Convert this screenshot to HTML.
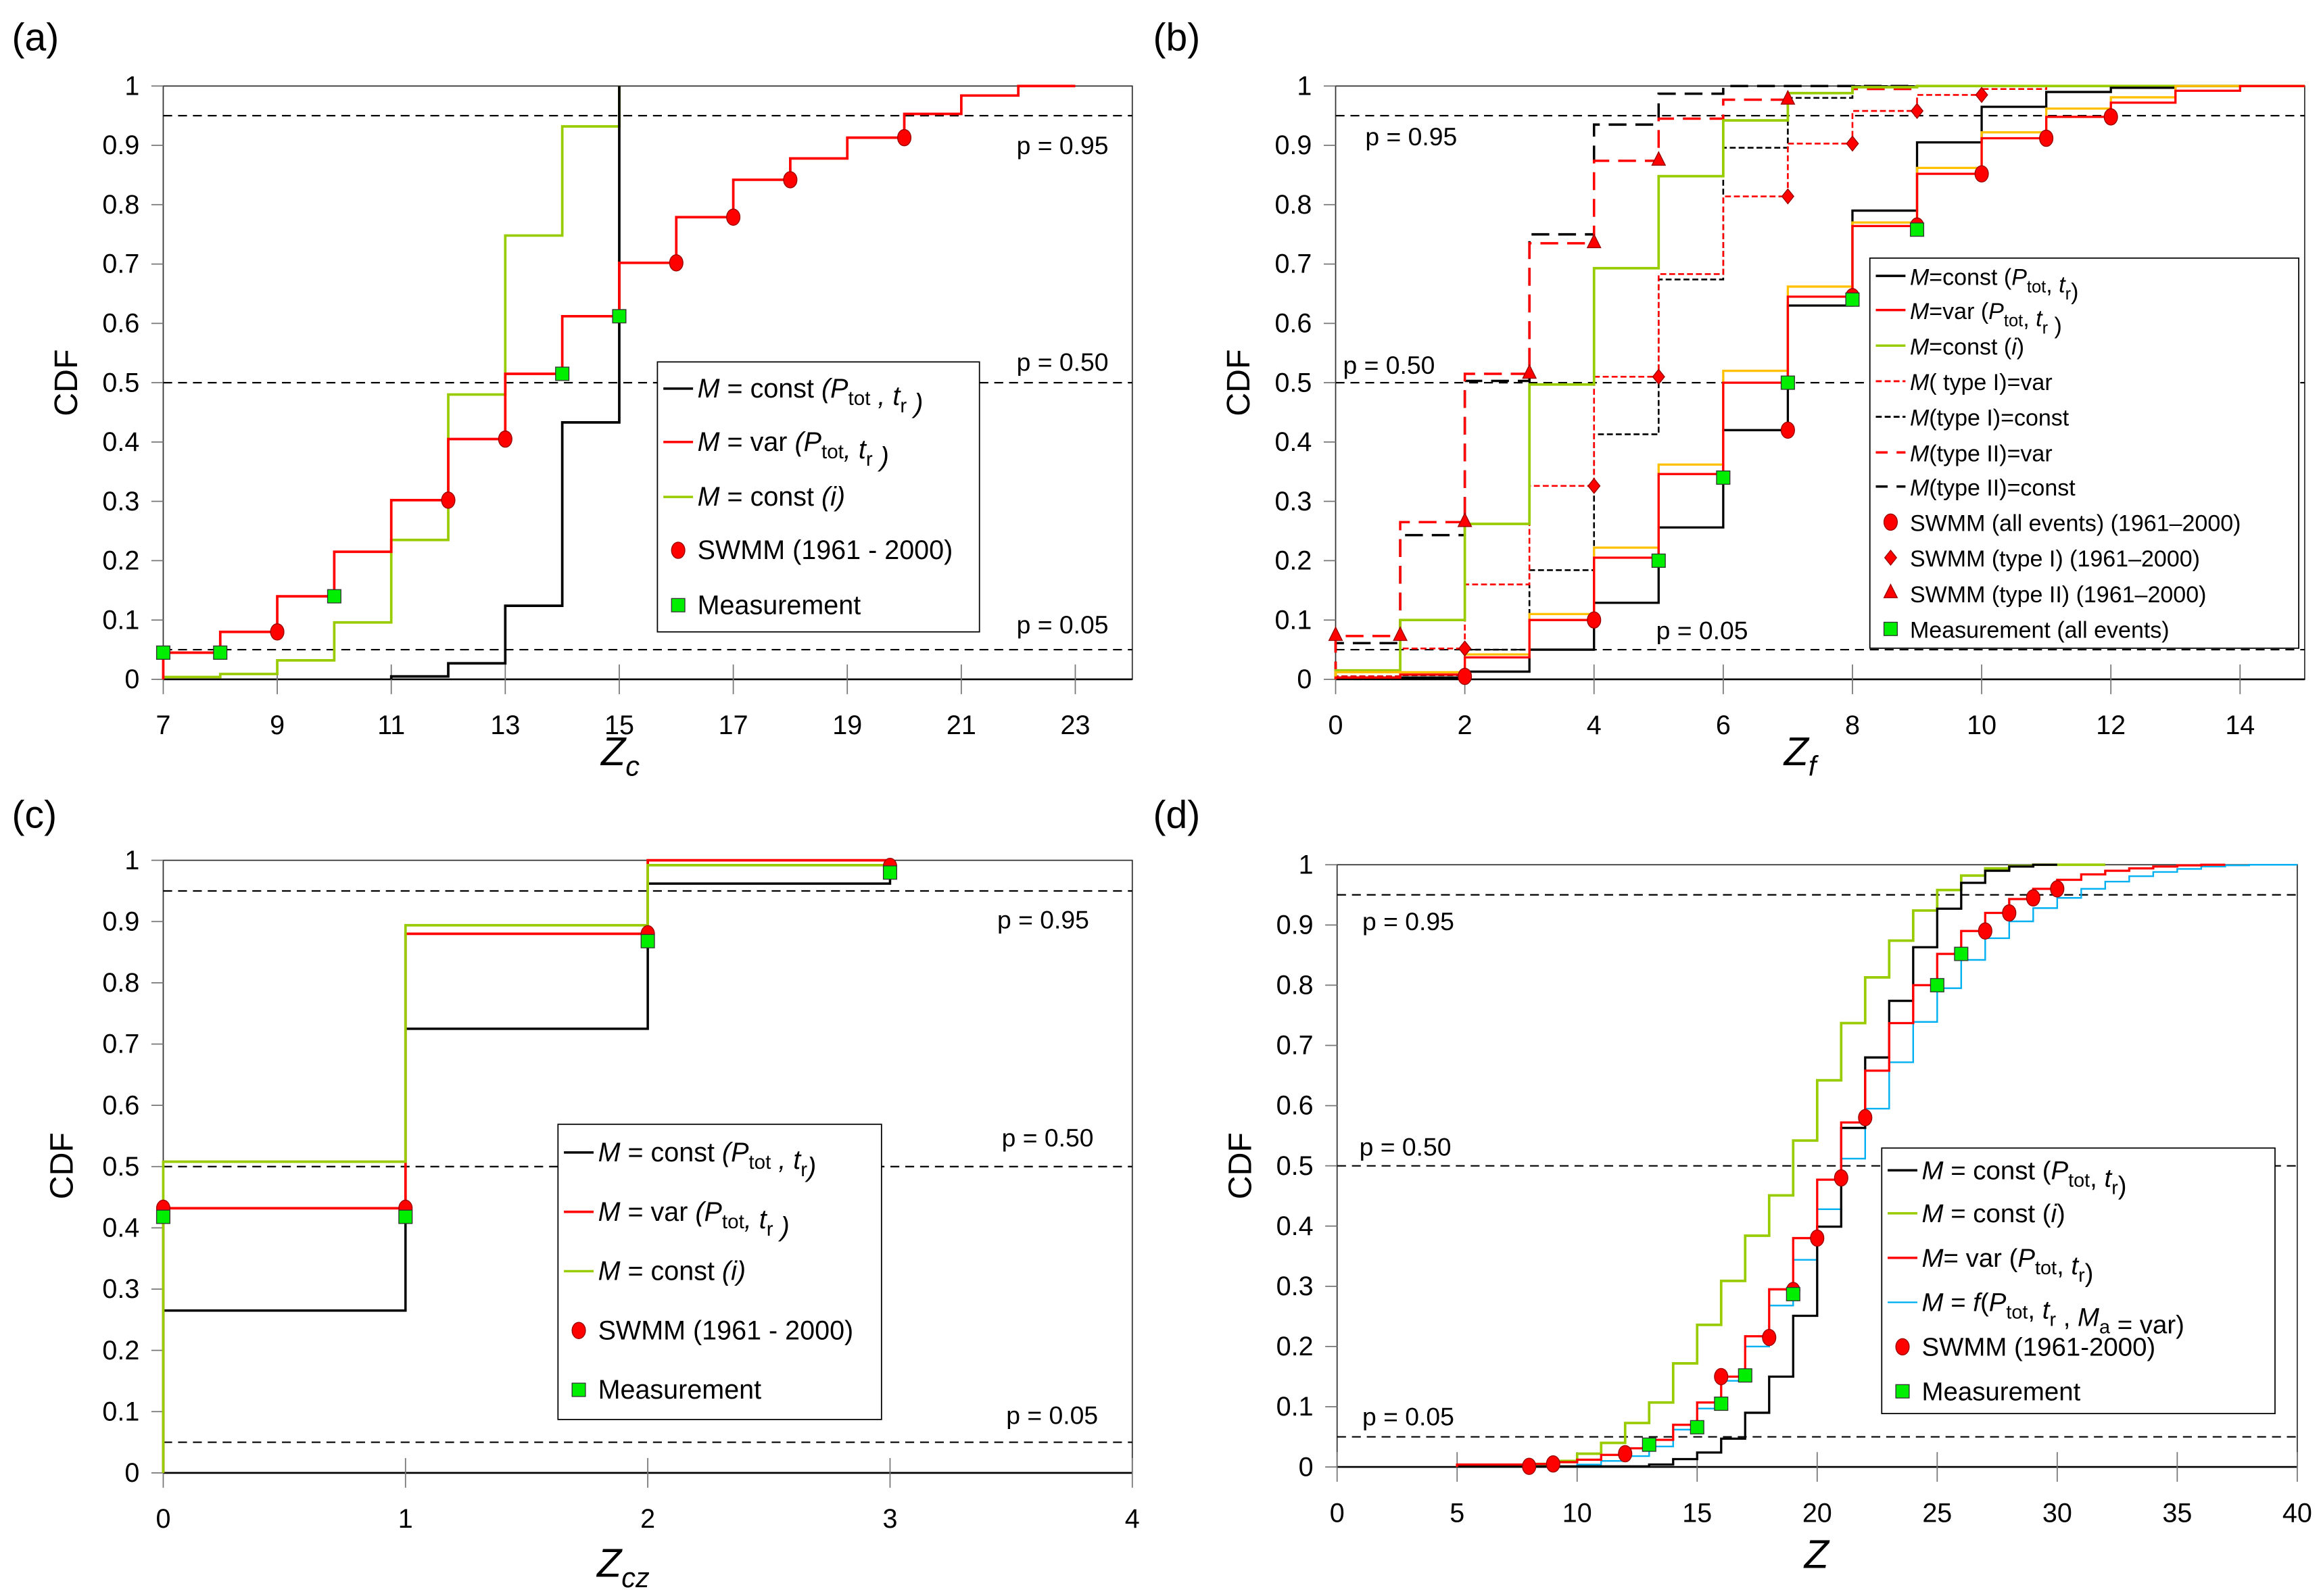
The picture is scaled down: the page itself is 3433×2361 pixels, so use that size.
<!DOCTYPE html>
<html><head><meta charset="utf-8"><style>
html,body{margin:0;padding:0;background:#fff;}
svg{display:block;font-family:"Liberation Sans",sans-serif;}
</style></head><body>
<svg id="fig" xmlns="http://www.w3.org/2000/svg" width="3433" height="2361" viewBox="0 0 1564 1076" preserveAspectRatio="none">
<rect width="1564" height="1076" fill="#fff"/>
<g id="layer"></g>
</svg>
<script>
// ---------- Panel (a) data ----------
const aBlackX=[11,12,13,14,15];
const aBlackY=[0.005,0.027,0.124,0.433,1.0];
const aGreenX=[7,8,9,10,11,12,13,14,15];
const aGreenY=[0.004,0.009,0.032,0.096,0.235,0.48,0.748,0.932,1.0];
const aRedX=[7,8,9,10,11,12,13,14,15,16,17,18,19,20,21,22];
const aRedY=[0.045,0.08,0.14,0.215,0.302,0.405,0.515,0.612,0.702,0.779,0.842,0.878,0.913,0.953,0.984,1.0];
const aSwmmX=[9,12,13,16,17,18,20];
const aSwmmY=[0.08,0.302,0.405,0.702,0.779,0.842,0.913];
const aMeasX=[7,8,10,14,15];
const aMeasY=[0.045,0.045,0.14,0.515,0.612];
const aTicksX=[7,9,11,13,15,17,19,21,23];
// ---------- Panel (b) data ----------
const bX=[0,1,2,3,4,5,6,7,8,9,10,11,12,13,14];
const bBlackY=[0.003,0.003,0.013,0.05,0.129,0.256,0.42,0.63,0.79,0.905,0.965,0.99,0.997,1.0,1.0];
const bRedY=[0.003,0.008,0.037,0.1,0.205,0.346,0.5,0.645,0.764,0.852,0.912,0.948,0.972,0.992,1.0];
const bOrangeY=[0.012,0.012,0.042,0.11,0.222,0.362,0.52,0.662,0.77,0.862,0.922,0.962,0.981,1.0,1.0];
const bGreenY=[0.015,0.1,0.262,0.497,0.693,0.848,0.942,0.988,0.998,1.0,1.0,1.0,1.0,1.0,1.0];
const bRedDotY=[0.005,0.052,0.16,0.326,0.51,0.683,0.814,0.903,0.958,0.985,0.995,1.0,1.0,1.0,1.0];
const bBlackDotY=[0.005,0.007,0.05,0.184,0.413,0.674,0.896,0.98,1.0,1.0,1.0,1.0,1.0,1.0,1.0];
const bRedDashY=[0.073,0.265,0.515,0.735,0.874,0.945,0.977,0.988,0.995,1.0,1.0,1.0,1.0,1.0,1.0];
const bBlackDashY=[0.061,0.243,0.503,0.75,0.935,0.987,1.0,1.0,1.0,1.0,1.0,1.0,1.0,1.0,1.0];
const bSwmmX=[2,4,7,8,9,10,11,12];
const bSwmmY=[0.005,0.1,0.42,0.645,0.764,0.852,0.912,0.948];
const bType1X=[2,4,5,7,8,9,10];
const bType1Y=[0.052,0.326,0.51,0.814,0.903,0.958,0.985];
const bType2X=[0,1,2,3,4,5,7];
const bType2Y=[0.073,0.073,0.265,0.515,0.735,0.874,0.977];
const bMeasX=[5,6,7,8,9];
const bMeasY=[0.2,0.34,0.5,0.64,0.758];
const bTicksX=[0,2,4,6,8,10,12,14];
// ---------- Panel (c) data ----------
const cBlackX=[0,1,2,3];
const cBlackY=[0.265,0.725,0.962,0.97];
const cRedX=[0,1,2];
const cRedY=[0.432,0.88,1.0];
const cGreenX=[0,1,2];
const cGreenY=[0.508,0.894,0.992];
const cSwmmX=[0,1,2,3];
const cSwmmY=[0.432,0.432,0.88,0.99];
const cMeasX=[0,1,2,3];
const cMeasY=[0.418,0.418,0.868,0.98];
const cTicksX=[0,1,2,3,4];
// ---------- Panel (d) data ----------
const dGreenX=[5,8,9,10,11,12,13,14,15,16,17,18,19,20,21,22,23,24,25,26,27,28,29];
const dGreenY=[0.003,0.005,0.01,0.022,0.04,0.073,0.107,0.172,0.236,0.309,0.384,0.451,0.542,0.642,0.737,0.813,0.874,0.924,0.958,0.982,0.994,0.998,1.0];
const dBlackX=[5,13,14,15,16,17,18,19,20,21,22,23,24,25,26,27,28,29];
const dBlackY=[0.001,0.004,0.013,0.024,0.047,0.09,0.15,0.251,0.399,0.563,0.68,0.774,0.863,0.927,0.97,0.99,0.997,1.0];
const dRedX=[5,8,9,10,11,12,13,14,15,16,17,18,19,20,21,22,23,24,25,26,27,28,29,30,31,32,33,34,35,36];
const dRedY=[0.004,0.005,0.008,0.012,0.02,0.031,0.045,0.07,0.107,0.15,0.217,0.295,0.38,0.477,0.572,0.658,0.737,0.8,0.852,0.89,0.92,0.943,0.96,0.975,0.984,0.99,0.994,0.997,0.999,1.0];
const dBlueX=[5,10,11,12,13,14,15,16,17,18,19,20,21,22,23,24,25,26,27,28,29,30,31,32,33,34,35,36,37,38];
const dBlueY=[0.001,0.004,0.01,0.018,0.034,0.062,0.097,0.143,0.2,0.268,0.344,0.428,0.512,0.595,0.672,0.739,0.795,0.842,0.878,0.906,0.928,0.945,0.96,0.972,0.981,0.988,0.993,0.997,0.999,1.0];
const dSwmmX=[8,9,12,16,18,19,20,21,22,27,28,29,30];
const dSwmmY=[0.001,0.005,0.022,0.15,0.215,0.293,0.38,0.48,0.58,0.89,0.92,0.945,0.96];
const dMeasX=[13,15,16,17,19,25,26];
const dMeasY=[0.037,0.066,0.105,0.152,0.287,0.8,0.852];
const dTicksX=[0,5,10,15,20,25,30,35,40];
const yTicks=[0,0.1,0.2,0.3,0.4,0.5,0.6,0.7,0.8,0.9,1];
const yTickLabels=["0","0.1","0.2","0.3","0.4","0.5","0.6","0.7","0.8","0.9","1"];
const pLevels=[0.95,0.5,0.05];

const NS="http://www.w3.org/2000/svg";
const layer=document.getElementById('layer');
function mk(tag,attrs,parent){const e=document.createElementNS(NS,tag);for(const k in attrs)e.setAttribute(k,attrs[k]);(parent||layer).appendChild(e);return e;}
function scaleX(P,v){return P.x0+(v-P.xmin)/(P.xmax-P.xmin)*(P.x1-P.x0);}
function scaleY(P,v){return P.yB-v*(P.yB-P.yT);}

function axes(P,ticks,name){
  const g=mk('g',{});
  
  
  const fr=mk('rect',{x:P.x0,y:P.yT,width:P.x1-P.x0,height:P.yB-P.yT,fill:'none',stroke:'#333','stroke-width':0.8},g);
  
  
  mk('line',{x1:P.x0,x2:P.x1,y1:P.yB,y2:P.yB,stroke:'#000','stroke-width':1.2},g);
  yTicks.forEach((v,i)=>{
    const y=scaleY(P,v);
    mk('line',{x1:P.x0-8,x2:P.x0,y1:y,y2:y,stroke:'#777','stroke-width':0.8},g);
    const t=mk('text',{x:P.x0-16,y:y+6,'font-size':18,'text-anchor':'end',fill:'#000'},g);
    t.textContent=yTickLabels[i];
    
    
  });
  ticks.forEach(v=>{
    const x=scaleX(P,v);
    mk('line',{x1:x,x2:x,y1:P.yB-10,y2:P.yB+10,stroke:'#777','stroke-width':0.8},g);
    const t=mk('text',{x:x,y:P.yB+37,'font-size':18,'text-anchor':'middle',fill:'#000'},g);
    t.textContent=String(v);
    
    
  });
  pLevels.forEach(p=>{
    const l=mk('line',{x1:P.x0,x2:P.x1,y1:scaleY(P,p),y2:scaleY(P,p),stroke:'#000','stroke-width':1,'stroke-dasharray':'6,4'},g);
    
    
  });
}
function step(P,xs,ys,xEnd,color,w,dash,name){
  let d='M'+scaleX(P,xs[0])+','+scaleY(P,0)+' V'+scaleY(P,ys[0]);
  for(let i=1;i<xs.length;i++){d+=' H'+scaleX(P,xs[i])+' V'+scaleY(P,ys[i]);}
  d+=' H'+scaleX(P,xEnd);
  const a={d:d,fill:'none',stroke:color,'stroke-width':w};
  if(dash)a['stroke-dasharray']=dash;
  const p=mk('path',a);
  
  
}
function marker(type,x,y,name){
  let e;
  if(type==='circle') e=mk('ellipse',{cx:x,cy:y,rx:4.5,ry:5.5,fill:'#ff0000',stroke:'#900','stroke-width':0.6});
  else if(type==='square') e=mk('rect',{x:x-4.5,y:y-4.5,width:9,height:9,fill:'#00ee00',stroke:'#333','stroke-width':0.6});
  else if(type==='diamond') e=mk('path',{d:`M${x},${y-5} L${x+4},${y} L${x},${y+5} L${x-4},${y} Z`,fill:'#ff0000',stroke:'#900','stroke-width':0.6});
  else e=mk('path',{d:`M${x},${y-6} L${x+4.5},${y+3} L${x-4.5},${y+3} Z`,fill:'#ff0000',stroke:'#900','stroke-width':0.6});
  
  
}
function markers(P,xs,ys,type,name){xs.forEach((v,i)=>marker(type,scaleX(P,v),scaleY(P,ys[i]),name));}
function text(x,y,html,size,name,extra){
  const t=mk('text',Object.assign({x:x,y:y,'font-size':size,fill:'#000'},extra||{}));
  t.innerHTML=html;
  
  
  return t;
}
function legend(bx,by,bw,bh,entries,size,name){
  const r=mk('rect',{x:bx,y:by,width:bw,height:bh,fill:'#fff',stroke:'#000','stroke-width':0.8});
  
  
  entries.forEach(en=>{
    const y=en.y;
    if(en.line){
      const l=mk('line',{x1:bx+4,x2:bx+24,y1:y,y2:y,stroke:en.line,'stroke-width':en.w||1.6});
      if(en.dash)l.setAttribute('stroke-dasharray',en.dash);
      
      
    } else marker(en.mk,bx+14,y,name+'-swatch');
    text(bx+27,y+6,en.t,size,name+'-entry');
  });
}
const I=s=>`<tspan font-style="italic">${s}</tspan>`;
const SUB=s=>`<tspan font-size="75%" dy="5">${s}</tspan><tspan dy="-5"></tspan>`;

// panel geometry
const PA={x0:110,x1:763,xmin:7,xmax:24,yT:58,yB:458};
const PB={x0:900,x1:1553,xmin:0,xmax:15,yT:58,yB:458};
const PC={x0:110,x1:763,xmin:0,xmax:4,yT:580,yB:993};
const PD={x0:901,x1:1548,xmin:0,xmax:40,yT:583,yB:989};
const RED='#ff0000',GRN='#99cc00',ORG='#ffc000',BLU='#00b0f0';

// ---- (a)
axes(PA,aTicksX,'panel-a');
step(PA,aGreenX,aGreenY,15,GRN,1.7,null,'a-series-const-i');
step(PA,aBlackX,aBlackY,15,'#000',1.7,null,'a-series-const-ptot');
step(PA,aRedX,aRedY,23,RED,1.7,null,'a-series-var-ptot');
markers(PA,aSwmmX,aSwmmY,'circle','a-swmm-point');
markers(PA,aMeasX,aMeasY,'square','a-measurement-point');
legend(443,244,217,182,[
 {y:262,line:'#000',t:`${I('M')} = const ${I('(P')}${SUB('tot')}${I(' , t')}${SUB('r')}${I(' )')}`},
 {y:298,line:RED,t:`${I('M')} = var ${I('(P')}${SUB('tot')}${I(', t')}${SUB('r')}${I(' )')}`},
 {y:335,line:GRN,t:`${I('M')} = const ${I('(i)')}`},
 {y:371,mk:'circle',t:'SWMM (1961 - 2000)'},
 {y:408,mk:'square',t:'Measurement'}],18,'a-legend');
text(685,104,'p = 0.95',17,'a-p95-label');text(685,250,'p = 0.50',17,'a-p50-label');text(685,427,'p = 0.05',17,'a-p05-label');

// ---- (b)
axes(PB,bTicksX,'panel-b');
step(PB,bX,bBlackDashY,15,'#000',1.6,'12,6','b-series-type2-const');
step(PB,bX,bRedDashY,15,RED,1.6,'12,6','b-series-type2-var');
step(PB,bX,bBlackDotY,15,'#000',1.2,'4,2','b-series-type1-const');
step(PB,bX,bRedDotY,15,RED,1.2,'4,2','b-series-type1-var');
step(PB,bX,bGreenY,15,GRN,1.7,null,'b-series-const-i');
step(PB,bX,bBlackY,15,'#000',1.5,null,'b-series-const-ptot');
step(PB,bX,bOrangeY,15,ORG,1.5,null,'b-series-orange');
step(PB,bX,bRedY,15,RED,1.5,null,'b-series-var-ptot');
markers(PB,bSwmmX,bSwmmY,'circle','b-swmm-all-point');
markers(PB,bType1X,bType1Y,'diamond','b-swmm-type1-point');
markers(PB,bType2X,bType2Y,'triangle','b-swmm-type2-point');
markers(PB,bMeasX,bMeasY,'square','b-measurement-point');
legend(1260,174,289,263,[
 {y:186,line:'#000',t:`${I('M')}=const (${I('P')}${SUB('tot')}, ${I('t')}${SUB('r')})`},
 {y:209,line:RED,t:`${I('M')}=var (${I('P')}${SUB('tot')}, ${I('t')}${SUB('r')} )`},
 {y:233,line:GRN,t:`${I('M')}=const (${I('i')})`},
 {y:257,line:RED,dash:'4,2',w:1.3,t:`${I('M')}( type I)=var`},
 {y:281,line:'#000',dash:'4,2',w:1.3,t:`${I('M')}(type I)=const`},
 {y:305,line:RED,dash:'8,6',t:`${I('M')}(type II)=var`},
 {y:328,line:'#000',dash:'8,6',t:`${I('M')}(type II)=const`},
 {y:352,mk:'circle',t:'SWMM (all events) (1961–2000)'},
 {y:376,mk:'diamond',t:'SWMM (type I) (1961–2000)'},
 {y:400,mk:'triangle',t:'SWMM (type II) (1961–2000)'},
 {y:424,mk:'square',t:'Measurement (all events)'}],15.5,'b-legend');
text(920,98,'p = 0.95',17,'b-p95-label');text(905,252,'p = 0.50',17,'b-p50-label');text(1116,431,'p = 0.05',17,'b-p05-label');

// ---- (c)
axes(PC,cTicksX,'panel-c');
step(PC,cBlackX,cBlackY,3,'#000',1.6,null,'c-series-const-ptot');
step(PC,cRedX,cRedY,3,RED,1.7,null,'c-series-var-ptot');
step(PC,cGreenX,cGreenY,3,GRN,1.7,null,'c-series-const-i');
markers(PC,cSwmmX,cSwmmY,'circle','c-swmm-point');
markers(PC,cMeasX,cMeasY,'square','c-measurement-point');
legend(376,758,218,199,[
 {y:777,line:'#000',t:`${I('M')} = const ${I('(P')}${SUB('tot')}${I(' , t')}${SUB('r')}${I(')')}`},
 {y:817,line:RED,t:`${I('M')} = var ${I('(P')}${SUB('tot')}${I(', t')}${SUB('r')}${I(' )')}`},
 {y:857,line:GRN,t:`${I('M')} = const ${I('(i)')}`},
 {y:897,mk:'circle',t:'SWMM (1961 - 2000)'},
 {y:937,mk:'square',t:'Measurement'}],18,'c-legend');
text(672,626,'p = 0.95',17,'c-p95-label');text(675,773,'p = 0.50',17,'c-p50-label');text(678,960,'p = 0.05',17,'c-p05-label');

// ---- (d)
axes(PD,dTicksX,'panel-d');
step(PD,dBlueX,dBlueY,40,BLU,1.1,null,'d-series-f-ma-var');
step(PD,dGreenX,dGreenY,32,GRN,1.7,null,'d-series-const-i');
step(PD,dBlackX,dBlackY,30,'#000',1.5,null,'d-series-const-ptot');
step(PD,dRedX,dRedY,37,RED,1.5,null,'d-series-var-ptot');
markers(PD,dSwmmX,dSwmmY,'circle','d-swmm-point');
markers(PD,dMeasX,dMeasY,'square','d-measurement-point');
legend(1268,774,265,179,[
 {y:789,line:'#000',t:`${I('M')} = const (${I('P')}${SUB('tot')}, ${I('t')}${SUB('r')})`},
 {y:818,line:GRN,t:`${I('M')} = const (${I('i')})`},
 {y:848,line:RED,t:`${I('M')}= var (${I('P')}${SUB('tot')}, ${I('t')}${SUB('r')})`},
 {y:878,line:BLU,w:1.1,t:`${I('M')} = ${I('f')}(${I('P')}${SUB('tot')}, ${I('t')}${SUB('r')} , ${I('M')}${SUB('a')} = var)`},
 {y:908,mk:'circle',t:'SWMM (1961-2000)'},
 {y:938,mk:'square',t:'Measurement'}],17.5,'d-legend');
text(918,627,'p = 0.95',17,'d-p95-label');text(916,779,'p = 0.50',17,'d-p50-label');text(918,961,'p = 0.05',17,'d-p05-label');

// panel labels & axis titles
text(8,34,'(a)',26,'panel-a-label');text(777,34,'(b)',26,'panel-b-label');
text(8,558,'(c)',26,'panel-c-label');text(777,558,'(d)',26,'panel-d-label');
[[52,258,'a'],[842,258,'b'],[49,786,'c'],[843,786,'d']].forEach(a=>{
  text(a[0],a[1],'CDF',22,'panel-'+a[2]+'-y-axis-title',{'text-anchor':'middle',transform:`rotate(-90 ${a[0]} ${a[1]})`});
});
text(418,516,`${I('Z')}<tspan font-size="70%" font-style="italic" dy="7">c</tspan>`,27,'panel-a-x-axis-title',{'text-anchor':'middle'});
text(1213,516,`${I('Z')}<tspan font-size="70%" font-style="italic" dy="7">f</tspan>`,27,'panel-b-x-axis-title',{'text-anchor':'middle'});
text(420,1063,`${I('Z')}<tspan font-size="70%" font-style="italic" dy="7">cz</tspan>`,27,'panel-c-x-axis-title',{'text-anchor':'middle'});
text(1224,1057,`${I('Z')}`,27,'panel-d-x-axis-title',{'text-anchor':'middle'});
</script>
</body></html>
